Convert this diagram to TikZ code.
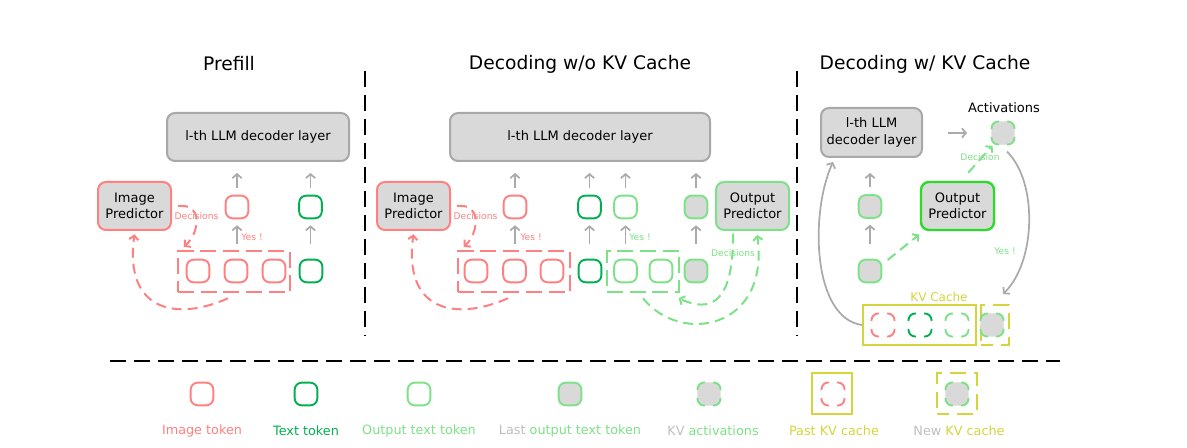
\documentclass[tikz,border=0pt]{standalone}
\usepackage{fontspec}
\setmainfont{DejaVu Sans}
\usetikzlibrary{arrows.meta}
\definecolor{pinkc}{RGB}{255,128,128}
\definecolor{dgreen}{RGB}{0,176,80}
\definecolor{lgreen}{RGB}{125,225,135}
\definecolor{bgreen}{RGB}{40,220,40}
\definecolor{grayf}{RGB}{217,217,217}
\definecolor{grayb}{RGB}{168,168,168}
\definecolor{graya}{RGB}{170,170,170}
\definecolor{graytxt}{RGB}{190,190,190}
\definecolor{yel}{RGB}{212,212,60}
\tikzset{
 tok/.style={draw, rounded corners=5.25pt, minimum size=17pt, line width=1.4pt, inner sep=0pt},
 imgtok/.style={tok, draw=pinkc},
 txttok/.style={tok, draw=dgreen},
 outtok/.style={tok, draw=lgreen},
 lasttok/.style={tok, draw=lgreen, fill=grayf},
 ghost/.style={minimum size=18pt, inner sep=0pt},
 kvfill/.style={fill=grayf, rounded corners=5.25pt, minimum size=17.5pt, inner sep=0pt},
 pics/kvcorner/.style={code={
   \draw[line width=1.4pt, draw=#1, rounded corners=5pt] (-11.5,-4) |- (-4,-11.5);
   \draw[line width=1.4pt, draw=#1, rounded corners=5pt] (4,-11.5) -| (11.5,-4);
   \draw[line width=1.4pt, draw=#1, rounded corners=5pt] (11.5,4) |- (4,11.5);
   \draw[line width=1.4pt, draw=#1, rounded corners=5pt] (-4,11.5) -| (-11.5,4);
 }},
 decbox/.style={draw=grayb, fill=grayf, rounded corners=6pt, line width=1.5pt, font=\fontsize{9.75}{12.75}\selectfont, align=center, inner sep=0pt},
 predbox/.style={fill=grayf, rounded corners=6pt, line width=1.5pt, font=\fontsize{9.75}{12}\selectfont, align=center, inner sep=0pt, minimum width=54.75pt, minimum height=36pt},
 dbox/.style={draw=#1, line width=1.4pt, dash pattern=on 12pt off 5pt, inner sep=0pt},
 uparr/.style={draw=graya, line width=1.3pt, -{Straight Barb[length=3pt,width=7pt]}},
 lowgap/.style={shorten <=11pt, shorten >=4.5pt},
 topgap/.style={shorten <=5.25pt, shorten >=8.25pt},
 darr/.style={draw=#1, line width=1.5pt, dash pattern=on 7.5pt off 4.5pt, -{Straight Barb[length=3pt,width=7pt]}},
 grarr/.style={draw=graya, line width=1.3pt, -{Straight Barb[length=3pt,width=7pt]}},
 small/.style={font=\fontsize{6.9}{8}\selectfont, text=#1, inner sep=0pt},
 title/.style={font=\fontsize{14}{16}\selectfont, inner sep=0pt},
 leg/.style={font=\fontsize{9.6}{11}\selectfont, inner sep=0pt},
 divider/.style={line width=1.5pt, dash pattern=on 12pt off 6pt},
}
\begin{document}
\begin{tikzpicture}[x=0.75pt,y=-0.75pt]
\useasboundingbox (0,0) rectangle (1187,448);

% ---------- titles ----------
\node[title] (ti1) at (229,64) {Prefill};
\node[title] (ti2) at (580,64) {Decoding w/o KV Cache};
\node[title] (ti3) at (925,64) {Decoding w/ KV Cache};

% ---------- dividers ----------
\coordinate (d1a) at (364.5,71); \coordinate (d1b) at (364.5,336);
\coordinate (d2a) at (797,71); \coordinate (d2b) at (797,336);
\coordinate (h1) at (110,361); \coordinate (h2) at (1060,361);
\draw[divider] (d1a) -- (d1b);
\draw[divider] (d2a) -- (d2b);
\draw[divider] (h1) -- (h2);

% ================= Panel 1: Prefill =================
\node[decbox, minimum width=136.5pt, minimum height=36pt] (dec1) at (258,137) {l-th LLM decoder layer};
\node[predbox, draw=pinkc] (ip1) at (134.5,206) {Image\\Predictor};
\node[imgtok] (p1m1) at (237,207) {};
\node[txttok] (p1m2) at (310.5,207) {};
\node[imgtok] (p1b1) at (198,271) {};
\node[imgtok] (p1b2) at (236,271) {};
\node[imgtok] (p1b3) at (274,271) {};
\node[txttok] (p1b4) at (311,271) {};
\node[dbox=pinkc, minimum width=84pt, minimum height=30.75pt] (p1box) at (234,271.5) {};
\draw[uparr,lowgap] (p1m1.south |- p1b2.north) -- (p1m1.south);
\draw[uparr,lowgap] (p1m2.south |- p1b4.north) -- (p1m2.south);
\draw[uparr,topgap] (p1m1.north) -- (p1m1.north |- dec1.south);
\draw[uparr,topgap] (p1m2.north) -- (p1m2.north |- dec1.south);
\node[small=pinkc] (p1dec) at (196.5,216) {Decisions};
\node[small=pinkc] (p1yes) at (252,237) {Yes !};
\draw[darr=pinkc] ([xshift=4.5pt]ip1.east) .. controls (204,203) and (199,234) .. ([xshift=5pt,yshift=2.5pt]p1box.north west);
\draw[darr=pinkc] ([xshift=-4.5pt,yshift=-4pt]p1box.south) .. controls (175,322) and (124,310) .. ([yshift=-2.5pt]ip1.south);

% ================= Panel 2: Decoding w/o KV Cache =================
\node[decbox, minimum width=195pt, minimum height=36pt] (dec2) at (580,137) {l-th LLM decoder layer};
\node[predbox, draw=pinkc] (ip2) at (413.5,206) {Image\\Predictor};
\node[predbox, draw=lgreen] (op2) at (752.5,206) {Output\\Predictor};
\node[imgtok] (p2m1) at (515,207) {};
\node[txttok] (p2m2) at (589.5,207) {};
\node[outtok] (p2m3) at (625.5,207) {};
\node[lasttok] (p2m4) at (696,207) {};
\node[imgtok] (p2b1) at (476,271) {};
\node[imgtok] (p2b2) at (514.5,271) {};
\node[imgtok] (p2b3) at (552,271) {};
\node[txttok] (p2b4) at (590,271) {};
\node[outtok] (p2b5) at (625.5,271) {};
\node[outtok] (p2b6) at (661,271) {};
\node[lasttok] (p2b7) at (696,271) {};
\node[dbox=pinkc, minimum width=84pt, minimum height=30.75pt] (p2box) at (514,271.5) {};
\node[dbox=lgreen, minimum width=54pt, minimum height=30.75pt] (p2gbox) at (643,271.5) {};
\draw[uparr,lowgap] (p2m1.south |- p2b2.north) -- (p2m1.south);
\draw[uparr,lowgap] (p2m2.south |- p2b4.north) -- (p2m2.south);
\draw[uparr,lowgap] (p2m3.south |- p2b5.north) -- (p2m3.south);
\draw[uparr,lowgap] (p2m4.south |- p2b7.north) -- (p2m4.south);
\draw[uparr,topgap] (p2m1.north) -- (p2m1.north |- dec2.south);
\draw[uparr,topgap] (p2m2.north) -- (p2m2.north |- dec2.south);
\draw[uparr,topgap] (p2m3.north) -- (p2m3.north |- dec2.south);
\draw[uparr,topgap] (p2m4.north) -- (p2m4.north |- dec2.south);
\node[small=pinkc] (p2dec) at (475.5,216) {Decisions};
\node[small=pinkc] (p2yes) at (531,237) {Yes !};
\node[small=lgreen] (p2yes2) at (640,237) {Yes !};
\node[small=lgreen] (p2dec2) at (733,253) {Decisions};
\draw[darr=pinkc] ([xshift=4.5pt]ip2.east) .. controls (483,203) and (478,234) .. ([xshift=5pt,yshift=2.5pt]p2box.north west);
\draw[darr=pinkc] ([xshift=-4.5pt,yshift=-4pt]p2box.south) .. controls (454,322) and (403,310) .. ([yshift=-2.5pt]ip2.south);
\draw[darr=lgreen] ([xshift=-14.5pt,yshift=-2pt]op2.south) .. controls (733,285) and (722,318) .. ([xshift=-1pt,yshift=-4pt]p2gbox.south east);
\draw[darr=lgreen] ([yshift=-4pt]p2gbox.south) .. controls (680,345) and (770,330) .. ([xshift=3.5pt,yshift=-3pt]op2.south);

% ================= Panel 3: Decoding w/ KV Cache =================
\node[decbox, minimum width=75.75pt, minimum height=36.75pt] (dec3) at (871.5,132.5) {l-th LLM\\decoder layer};
\node[predbox, draw=bgreen, line width=1.8pt] (op3) at (957.5,206) {Output\\Predictor};
\node[lasttok] (t3a) at (870,206.5) {};
\node[lasttok] (t3b) at (870,271) {};
\node[kvfill] (act) at (1003,133) {};
\pic at (act) {kvcorner=lgreen};
\node[font=\fontsize{9.75}{11}\selectfont, inner sep=0pt] (actlab) at (1004,108) {Activations};
\draw[uparr,lowgap] (t3b.north) -- (t3a.south);
\draw[uparr,shorten <=5.25pt, shorten >=11.25pt] (t3a.north) -- (t3a.north |- dec3.south);
\draw[grarr, shorten <=18.75pt, shorten >=18pt] (dec3.east |- act.west) -- (act.west);
\draw[darr=lgreen] ([xshift=4pt,yshift=-1pt]t3b.north east) -- ([xshift=-0.5pt,yshift=-2.5pt]op3.south west);
\draw[darr=lgreen] ([xshift=8pt,yshift=6pt]op3.north) -- ([xshift=1pt,yshift=-0.5pt]act.south west);
\node[small=lgreen] (declab) at (980,157) {Decision};
\node[small=lgreen] (yes3) at (1005,251) {Yes !};
% KV cache
\node[draw=yel, line width=1.5pt, minimum width=84.75pt, minimum height=30pt, inner sep=0pt] (kvb) at (919.5,325) {};
\node[ghost] (kv1) at (883,325) {};
\node[ghost] (kv2) at (920,325) {};
\node[ghost] (kv3) at (957,325) {};
\pic at (kv1) {kvcorner=pinkc};
\pic at (kv2) {kvcorner=dgreen};
\pic at (kv3) {kvcorner=lgreen};
\node[draw=yel, line width=1.5pt, dash pattern=on 12pt off 6pt, dash phase=3pt, minimum width=21pt, minimum height=30pt, inner sep=0pt] (ncb) at (995,325) {};
\node[kvfill] (kv4) at (992,325) {};
\pic at (kv4) {kvcorner=lgreen};
\node[font=\fontsize{9}{11}\selectfont, text=yel, inner sep=0pt] (kvlab) at (939,297) {KV Cache};
\draw[grarr] (kvb.west) .. controls (812,318) and (810,212) .. ([xshift=9.75pt,yshift=-3pt]dec3.south west);
\draw[grarr] ([xshift=3pt,yshift=-5pt]act.south) .. controls (1038,182) and (1036,262) .. ([xshift=6pt,yshift=7.5pt]ncb.north);

% ================= Legend =================
\node[imgtok] (l1) at (202,394) {};
\node[txttok] (l2) at (306,394) {};
\node[outtok] (l3) at (419,394) {};
\node[lasttok] (l4) at (570,394) {};
\node[kvfill] (l5) at (709,394) {};
\pic at (l5) {kvcorner=lgreen};
\node[draw=yel, line width=1.5pt, minimum width=30pt, minimum height=30.75pt, inner sep=0pt] (l6box) at (832,393.5) {};
\node[ghost] (l6) at (833,394) {};
\pic at (l6) {kvcorner=pinkc};
\node[draw=yel, line width=1.5pt, dash pattern=on 12pt off 6pt, dash phase=3pt, minimum width=30pt, minimum height=30.75pt, inner sep=0pt] (l7box) at (957,393.5) {};
\node[kvfill] (l7) at (957,394) {};
\pic at (l7) {kvcorner=lgreen};

\node[leg, text=pinkc] (lt1) at (202,431) {Image token};
\node[leg, text=dgreen] (lt2) at (306,431) {Text token};
\node[leg, text=lgreen] (lt3) at (419,431) {Output text token};
\node[leg, text=lgreen] (lt4) at (570,431) {\textcolor{graytxt}{Last} output text token};
\node[leg, text=lgreen] (lt5) at (713,431) {\textcolor{graytxt}{KV} activations};
\node[leg, text=yel] (lt6) at (834,431) {Past KV cache};
\node[leg, text=yel] (lt7) at (959,431) {\textcolor{graytxt}{New} KV cache};
\end{tikzpicture}
\end{document}
